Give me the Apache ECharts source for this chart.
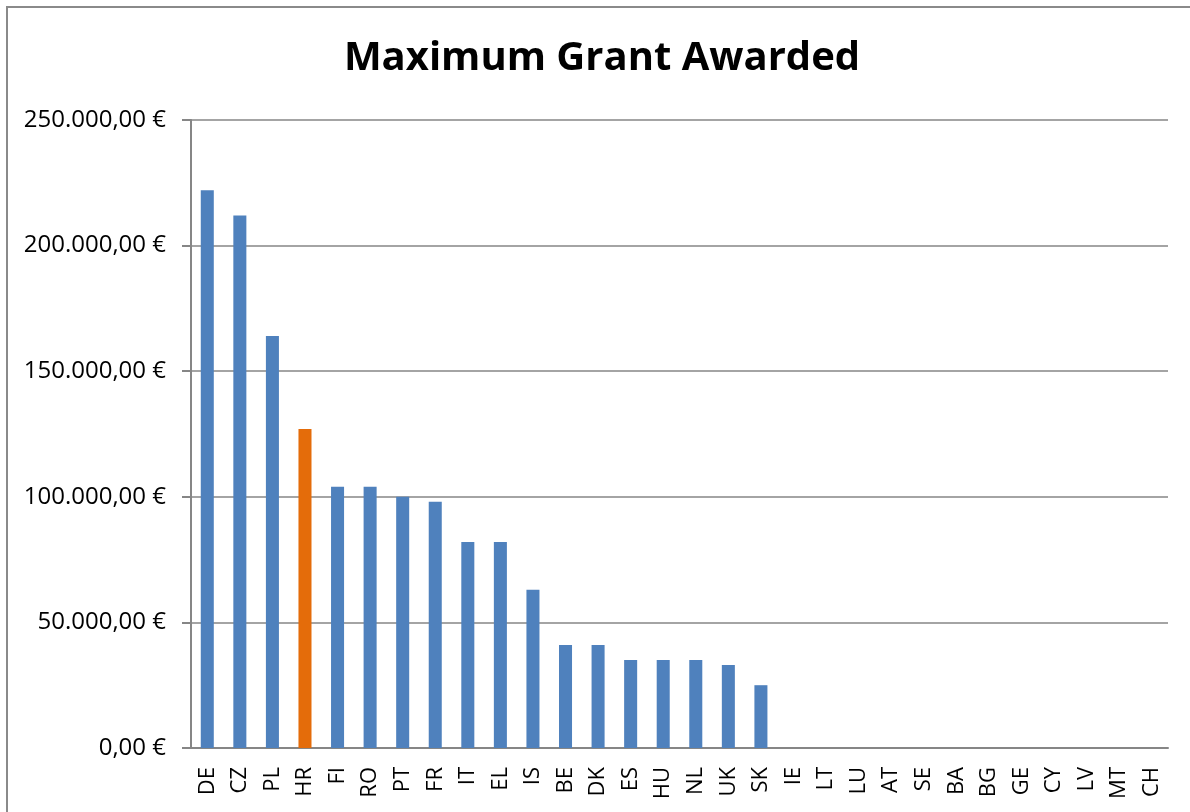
<!DOCTYPE html>
<html>
<head>
<meta charset="utf-8">
<script src="https://cdn.jsdelivr.net/npm/echarts@6/dist/echarts.min.js"></script>
<style>
html,body{margin:0;padding:0;background:#fff;}
#c{width:1190px;height:812px;}
</style>
</head>
<body>
<div id="c"></div>
<script>
const categories = ['DE','CZ','PL','HR','FI','RO','PT','FR','IT','EL','IS','BE','DK','ES','HU','NL','UK','SK','IE','LT','LU','AT','SE','BA','BG','GE','CY','LV','MT','CH'];
const values = [222000,212000,164000,127000,104000,104000,100000,98000,82000,82000,63000,41000,41000,35000,35000,35000,33000,25000,0,0,0,0,0,0,0,0,0,0,0,0];
const highlight = 'HR';
const title = 'Maximum Grant Awarded';

function fmt(v){
  const s = Math.round(v).toString().replace(/\B(?=(\d{3})+(?!\d))/g,'.');
  return s + ',00 €';
}

const chart = echarts.init(document.getElementById('c'), null, {renderer:'canvas'});
chart.setOption({
  animation:false,
  backgroundColor:'#fff',
  graphic:[{type:'rect',shape:{x:7,y:7,width:1220,height:900},style:{fill:'none',stroke:'#8a8a8a',lineWidth:2},z:-1}],
  title:{text:title,left:597,textAlign:'center',top:34,textStyle:{fontFamily:'Open Sans',fontWeight:'bold',fontSize:40,color:'#000'}},
  grid:{left:191,right:22,top:120,bottom:64},
  xAxis:{type:'category',data:categories,
    axisLine:{lineStyle:{color:'#868686',width:2}},
    axisTick:{show:false},
    axisLabel:{rotate:90,margin:19,fontFamily:'Open Sans',fontSize:22,color:'#000',interval:0}},
  yAxis:{type:'value',min:0,max:250000,interval:50000,
    axisLine:{show:true,lineStyle:{color:'#868686',width:2}},
    axisTick:{show:true,length:9,lineStyle:{color:'#868686',width:2}},
    splitLine:{lineStyle:{color:'#868686',width:1.5}},
    axisLabel:{formatter:fmt,margin:25,fontFamily:'Open Sans',fontSize:24,color:'#000'}},
  series:[{type:'bar',barWidth:'40%',
    data:values.map((v,i)=>({value:v,itemStyle:{color:categories[i]===highlight?'#E46C0A':'#4F81BD'}}))}]
});
</script>
</body>
</html>
